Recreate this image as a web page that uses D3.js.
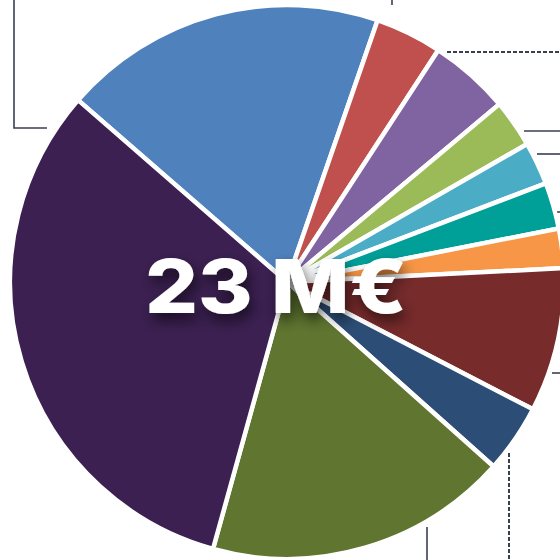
<!DOCTYPE html>
<html lang="fr">
  <head>
    <meta charset="UTF-8" />
    <title>23 M€</title>
    <style>
      body { margin: 0; background: #fff; }
      #container { width: 560px; height: 560px; overflow: hidden; }
      .slice { stroke: #fff; stroke-width: 4.5; stroke-linejoin: round; }
      .leader { fill: none; stroke: #3a3f52; stroke-width: 1.6; }
      .leader.dash { stroke-width: 2; stroke-dasharray: 4 2; }
    </style>
  </head>
  <body>
    <div id="container"></div>
    <script src="https://cdn.jsdelivr.net/npm/d3@7"></script>
    <script>
      // parts du budget total (en %), dans l'ordre des parts à partir du haut
      const categories = ["P1", "P2", "P3", "P4", "P5", "P6", "P7", "P8", "P9", "P10", "P11"];
      const values = [18.9, 3.9, 4.7, 2.8, 2.5, 2.7, 2.3, 8.4, 4.0, 17.7, 32.1];
      const colors = ["#4f81bd", "#c0504d", "#8064a2", "#9bbb59", "#4bacc6", "#009f98",
                      "#f79646", "#772b2b", "#2c4d75", "#5f7530", "#3b2051"];
      const totalLabel = "23 M€";

      const width = 560, height = 560;
      const cx = 287, cy = 282, radius = 277;

      const svg = d3.select("#container").append("svg")
        .attr("width", width)
        .attr("height", height);

      const defs = svg.append("defs");
      defs.append("filter")
        .attr("id", "shadow")
        .attr("x", "-20%").attr("y", "-40%")
        .attr("width", "140%").attr("height", "180%")
        .append("feDropShadow")
        .attr("dx", 3).attr("dy", 7)
        .attr("stdDeviation", 7)
        .attr("flood-color", "#000")
        .attr("flood-opacity", 0.6);

      // lignes de rappel vers les étiquettes (hors cadre)
      const leaders = [
        { d: "M14,0 V128 H47", dash: false },
        { d: "M392,0 V5", dash: false },
        { d: "M447,52 H560", dash: true },
        { d: "M524,131 H560", dash: false },
        { d: "M537,154 H560", dash: false },
        { d: "M557,212 H560", dash: false },
        { d: "M552,373 H560", dash: false },
        { d: "M509,453 V560", dash: true },
        { d: "M427,527 V560", dash: false }
      ];
      svg.append("g").selectAll("path")
        .data(leaders)
        .join("path")
        .attr("class", d => d.dash ? "leader dash" : "leader")
        .attr("d", d => d.d);

      const color = d3.scaleOrdinal().domain(categories).range(colors);

      const pie = d3.pie()
        .sort(null)
        .value(d => d.value)
        .startAngle(-48.95 * Math.PI / 180)
        .endAngle((360 - 48.95) * Math.PI / 180);

      const arc = d3.arc().innerRadius(0).outerRadius(radius);

      const data = categories.map((c, i) => ({ name: c, value: values[i] }));

      const g = svg.append("g").attr("transform", `translate(${cx},${cy})`);
      g.selectAll("path")
        .data(pie(data))
        .join("path")
        .attr("class", "slice")
        .attr("d", arc)
        .attr("fill", d => color(d.data.name));

      svg.append("text")
        .text(totalLabel)
        .attr("x", 276)
        .attr("y", 313)
        .attr("text-anchor", "middle")
        .attr("textLength", 262)
        .attr("lengthAdjust", "spacingAndGlyphs")
        .attr("font-family", "Inter, 'Open Sans', sans-serif")
        .attr("font-weight", 800)
        .attr("font-size", 74)
        .attr("fill", "#fff")
        .attr("filter", "url(#shadow)");
    </script>
  </body>
</html>
